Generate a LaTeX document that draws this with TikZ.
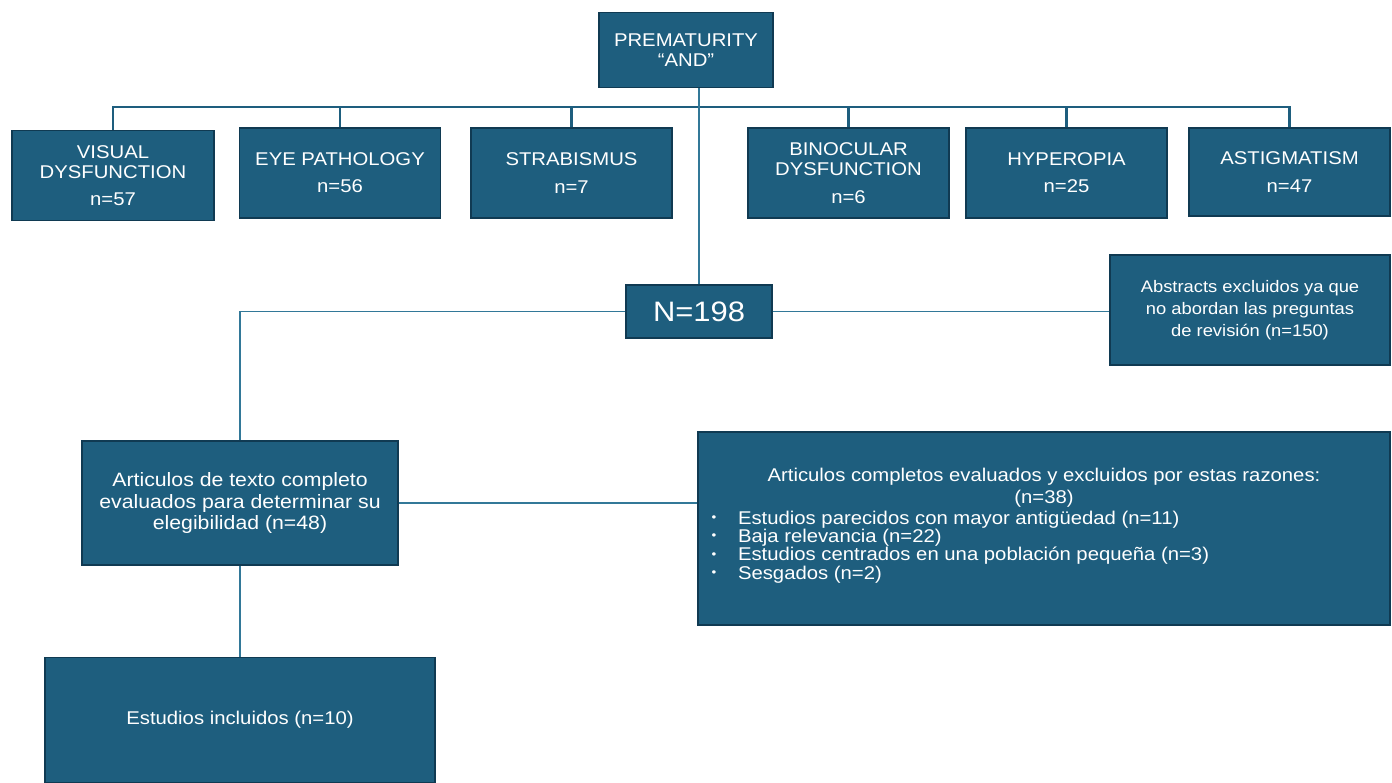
\documentclass[tikz,border=0pt]{standalone}
\usepackage{fontspec}
\setmainfont{Liberation Sans}[FakeStretch=1.1]
\usetikzlibrary{positioning}

\definecolor{boxblue}{RGB}{30,94,126}
\definecolor{boxedge}{RGB}{16,58,82}
\definecolor{linkblue}{RGB}{50,120,152}

\newcommand{\exitem}{\hspace*{0.1cm}\makebox[0.53cm][l]{\raisebox{1.6pt}{\fontsize{7}{7}\selectfont\textbullet}}}

\begin{document}
\begin{tikzpicture}[
  font=\fontsize{10.5}{11.5}\selectfont,
  % STYLES
  every node/.style={inner sep=2pt},
  % OWNs
  bbox/.style={rectangle,fill=boxblue,draw=boxedge,line width=0.7pt,text=white,align=center},
  tnode/.style={bbox,minimum width=4.02cm,minimum height=1.8cm},
  link/.style={draw=linkblue,line width=1pt},
  bus/.style={draw=boxblue,line width=1.4pt}]

  \useasboundingbox (0,0) rectangle (27.84,-15.64);

  \node[bbox,minimum width=3.48cm,minimum height=1.5cm] (prem) at (13.72,-1.0) {PREMATURITY\\“AND”};

  \node[tnode,minimum width=4.04cm] (visual) at (2.26,-3.51) {VISUAL\\DYSFUNCTION\\[4pt]n=57};
  \node[tnode] (eyepat) at (6.8,-3.46) {EYE PATHOLOGY\\[4pt]n=56};
  \node[tnode] (strab) at (11.43,-3.46) {STRABISMUS\\[4pt]n=7};
  \node[tnode] (binoc) at (16.97,-3.46) {BINOCULAR\\DYSFUNCTION\\[4pt]n=6};
  \node[tnode] (hyper) at (21.33,-3.46) {HYPEROPIA\\[4pt]n=25};
  \node[tnode,minimum height=1.76cm] (astig) at (25.79,-3.44) {ASTIGMATISM\\[4pt]n=47};

  \node[bbox,minimum width=2.92cm,minimum height=1.06cm,font=\fontsize{16}{19}\selectfont] (total) at (13.98,-6.23) {N=198};
  \node[bbox,minimum width=5.6cm,minimum height=2.2cm,font=\fontsize{9.5}{12.5}\selectfont] (abst) at (25.0,-6.2) {Abstracts excluidos ya que\\no abordan las preguntas\\de revisión (n=150)};

  \node[bbox,minimum width=6.32cm,minimum height=2.48cm,font=\fontsize{11}{12.5}\selectfont] (fulltext) at (4.8,-10.06) {Articulos de texto completo\\evaluados para determinar su\\elegibilidad (n=48)};
  \node[bbox,minimum width=13.84cm,minimum height=3.86cm] (excl) at (20.88,-10.57) {%
    \begin{minipage}{13.5cm}
      \fontsize{10.5}{10.5}\selectfont
      {\centering Articulos completos evaluados y excluidos por estas razones:\\[2pt](n=38)\par}
      \vspace{1pt}
      \raggedright
      \exitem Estudios parecidos con mayor antigüedad (n=11)\\
      \exitem Baja relevancia (n=22)\\
      \exitem Estudios centrados en una población pequeña (n=3)\\
      \exitem Sesgados (n=2)\par
      \vspace{3pt}
    \end{minipage}};

  \node[bbox,minimum width=7.8cm,minimum height=2.5cm] (incl) at (4.8,-14.4) {Estudios incluidos (n=10)};

  % bus to the search terms
  \coordinate (busline) at (0,-2.14);
  \path[bus]
    (visual.north) -- (visual.north |- busline) -- (astig.north |- busline) -- (astig.north)
    (eyepat.north) -- (eyepat.north |- busline)
    (strab.north) -- (strab.north |- busline)
    (binoc.north) -- (binoc.north |- busline)
    (hyper.north) -- (hyper.north |- busline);

  \path[link]
    (total.north |- prem.south) -- (total.north)
    (total.west) -| (fulltext.north)
    (total.east) -- (total.east -| abst.west)
    (fulltext.east) -- (fulltext.east -| excl.west)
    (fulltext.south) -- (incl.north);
\end{tikzpicture}
\end{document}
